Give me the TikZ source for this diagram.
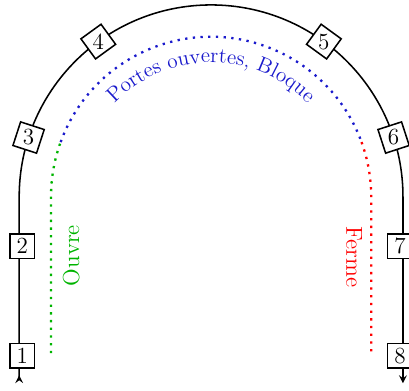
\documentclass[tikz,border=0pt]{standalone}
\usepackage{xcolor}
\usetikzlibrary{positioning, shapes.geometric, decorations.text, arrows}
\definecolor{ouvregreen}{HTML}{00B400}
\definecolor{bloqueblue}{HTML}{1A1ACC}
\definecolor{fermered}{HTML}{FF0000}

\begin{document}
\begin{tikzpicture}[
            stn/.style={regular polygon, regular polygon sides=4, draw, thick, fill=white, minimum size=0.64cm, inner sep=0, font=\large},
            dots/.style={line width=1.2pt, dash pattern=on 1.2pt off 2.8pt}]
            \useasboundingbox (-3.85,-3.54) rectangle (3.61,3.59);
            % Track
            \coordinate (L) at (-3.5,-3.4);
            \coordinate (R) at (3.5,-3.4);
            \draw[thick, >=stealth, >->] (L) -- (-3.5,0) arc[start angle=180, end angle=0, radius=3.5] -- (R);

            % Stations
            \foreach \y/\lab in {-2.9/1, -0.9/2} {
                \node[stn] (S\lab) at (-3.445, \y) {\lab};
            }
            \foreach \y/\lab in {-0.9/7, -2.9/8} {
                \node[stn] (S\lab) at (3.445, \y) {\lab};
            }
            \foreach \a/\lab [evaluate=\a as \rot using \a-90] in {162/3, 126/4, 54/5, 18/6} {
                \node[stn, shape border rotate=\rot] (S\lab) at (\a:3.5) {\lab};
            }

            % Door states
            \coordinate (G) at (-2.92,-2.85);
            \coordinate (F) at (2.92,-2.85);
            \draw[dots, ouvregreen] (G) -- (-2.92,0) arc[start angle=180, end angle=160, radius=2.92];
            \draw[dots, bloqueblue] (160:2.92) arc[start angle=160, end angle=20, radius=2.92];
            \draw[dots, fermered] (20:2.92) arc[start angle=20, end angle=0, radius=2.92] -- (F);

            \node[rotate=90, text=ouvregreen, font=\large] (ouvre) at (-2.55,-1.07) {Ouvre};
            \node[rotate=-90, text=fermered, font=\large] (ferme) at (2.61,-1.1) {Ferme};
            \path[decorate, decoration={text along path, text={|\fontsize{11}{13}\selectfont|Portes ouvertes, Bloque}, text align=center, text color=bloqueblue}]
                (180:2.45) arc[start angle=180, end angle=0, radius=2.45];
        \end{tikzpicture}
\end{document}
